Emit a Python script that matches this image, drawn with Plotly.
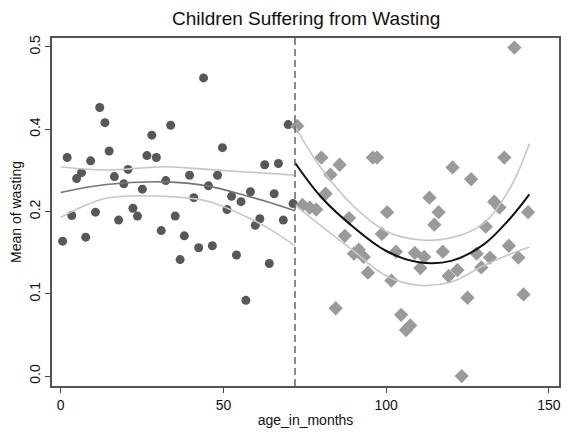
import plotly.graph_objects as go

# ---- data ----
left_age = [2.0, 12.0, 13.6, 14.9, 9.2, 6.4, 4.9, 3.4, 10.7, 16.5, 20.7, 19.4, 17.8, 22.2, 23.6,
            25.1, 26.5, 29.4, 28.0, 33.8, 32.3, 35.2, 30.9, 38.0, 39.6, 40.9, 43.9, 45.4, 48.2,
            49.7, 51.1, 52.5, 55.4, 58.3, 61.2, 59.8, 62.7, 66.9, 65.6, 68.4, 69.9, 71.4,
            0.6, 7.7, 36.7, 42.4, 46.6, 54.0, 56.9, 64.1]
left_wasting = [0.332, 0.408, 0.385, 0.342, 0.327, 0.309, 0.300, 0.244, 0.249, 0.303, 0.314, 0.292,
                0.237, 0.255, 0.243, 0.284, 0.335, 0.332, 0.366, 0.381, 0.297, 0.243, 0.221, 0.213,
                0.305, 0.271, 0.453, 0.289, 0.305, 0.347, 0.253, 0.273, 0.265, 0.280, 0.239, 0.229,
                0.321, 0.323, 0.277, 0.237, 0.382, 0.262,
                0.205, 0.211, 0.177, 0.195, 0.198, 0.184, 0.115, 0.171]

right_age = [139.4, 72.7, 80.1, 85.7, 82.9, 81.4, 95.9, 97.2, 74.3, 76.5, 78.5, 88.6, 100.3, 87.3,
             98.7, 113.3, 116.1, 114.8, 120.4, 126.1, 136.3, 133.2, 134.8, 130.6, 143.6,
             90.1, 91.6, 93.1, 94.4, 103.0, 108.8, 111.7, 110.5, 117.4, 101.6, 119.2, 121.9,
             127.8, 129.2, 131.9, 137.7, 140.6, 84.5, 104.6, 107.4, 106.1, 125.0, 142.2, 123.2]
right_wasting = [0.499, 0.380, 0.332, 0.321, 0.306, 0.277, 0.332, 0.332, 0.260, 0.256, 0.253, 0.240,
                 0.249, 0.213, 0.216, 0.271, 0.249, 0.230, 0.317, 0.299, 0.332, 0.265, 0.256, 0.227,
                 0.249, 0.186, 0.192, 0.181, 0.157, 0.189, 0.187, 0.181, 0.164, 0.189, 0.145, 0.152,
                 0.161, 0.186, 0.165, 0.180, 0.198, 0.180, 0.103, 0.093, 0.077, 0.070, 0.119, 0.124,
                 0.000]

# fitted curves
fit_left_x = [0, 14, 32, 45, 57, 64, 72]
fit_left_mean = [0.279, 0.291, 0.295, 0.289, 0.274, 0.264, 0.251]
fit_left_upper = [0.318, 0.313, 0.318, 0.314, 0.310, 0.308, 0.305]
fit_left_lower = [0.241, 0.270, 0.273, 0.266, 0.242, 0.224, 0.198]

fit_right_x = [72, 80, 90, 100, 110, 120, 130, 138, 144]
fit_right_mean = [0.324, 0.272, 0.226, 0.190, 0.173, 0.175, 0.200, 0.239, 0.276]
fit_right_upper = [0.379, 0.316, 0.258, 0.220, 0.207, 0.210, 0.232, 0.285, 0.353]
fit_right_lower = [0.260, 0.228, 0.190, 0.152, 0.138, 0.143, 0.168, 0.185, 0.196]

cutoff = 72
y_tick_vals = [0.0, 0.125, 0.25, 0.375, 0.5]
y_tick_text = ["0.0", "0.1", "0.2", "0.4", "0.5"]
x_tick_vals = [0, 50, 100, 150]

FONT = "Liberation Sans, Arial, Helvetica, sans-serif"
CI_COLOR = "#c6c6c6"

fig = go.Figure()

fig.add_trace(go.Scatter(x=left_age, y=left_wasting, mode="markers",
                         marker=dict(symbol="circle", size=9, color="#585858"),
                         showlegend=False))
fig.add_trace(go.Scatter(x=right_age, y=right_wasting, mode="markers",
                         marker=dict(symbol="diamond", size=11, color="#9a9a9a"),
                         showlegend=False))

for ys in (fit_left_upper, fit_left_lower):
    fig.add_trace(go.Scatter(x=fit_left_x, y=ys, mode="lines", line_shape="spline",
                             line=dict(color=CI_COLOR, width=1.6), showlegend=False))
fig.add_trace(go.Scatter(x=fit_left_x, y=fit_left_mean, mode="lines", line_shape="spline",
                         line=dict(color="#747474", width=1.6), showlegend=False))

for ys in (fit_right_upper, fit_right_lower):
    fig.add_trace(go.Scatter(x=fit_right_x, y=ys, mode="lines", line_shape="spline",
                             line=dict(color=CI_COLOR, width=1.6), showlegend=False))
fig.add_trace(go.Scatter(x=fit_right_x, y=fit_right_mean, mode="lines", line_shape="spline",
                         line=dict(color="#111111", width=2), showlegend=False))

fig.add_vline(x=cutoff, line=dict(color="#666666", width=1.5, dash="7px,4px"))

fig.update_layout(
    width=567, height=432,
    margin=dict(l=52, r=6, t=38, b=44),
    paper_bgcolor="white", plot_bgcolor="white",
    font=dict(family=FONT, size=14, color="#111111"),
    title=dict(text="Children Suffering from Wasting", x=0.54, xanchor="center",
               y=0.958, yanchor="middle", font=dict(size=19, color="#111111")),
    xaxis=dict(range=[-2.66, 153.1], tickvals=x_tick_vals, ticks="outside", ticklen=5,
               tickcolor="#444444", showgrid=False, zeroline=False,
               showline=True, linecolor="#555555", linewidth=1.5, mirror=True,
               title=dict(text="age_in_months", standoff=4, font=dict(size=14)),
               tickfont=dict(size=14)),
    yaxis=dict(range=[-0.0151, 0.5136], tickvals=y_tick_vals, ticktext=y_tick_text,
               tickangle=-90, ticks="outside", ticklen=5, tickcolor="#444444",
               showgrid=False, zeroline=False,
               showline=True, linecolor="#555555", linewidth=1.5, mirror=True,
               title=dict(text="Mean of wasting", standoff=2, font=dict(size=14)),
               tickfont=dict(size=14)),
)

fig.write_html("out.html")
